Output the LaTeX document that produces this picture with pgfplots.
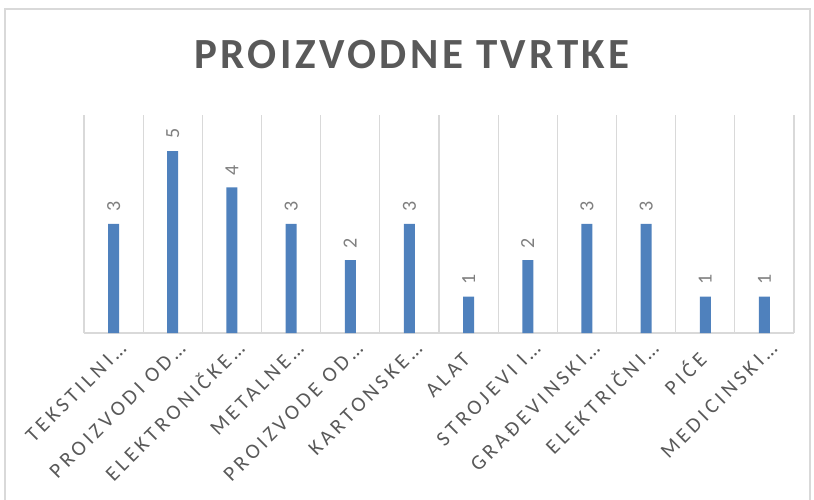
\documentclass[border=0pt]{standalone}
\usepackage{fontspec}
\setmainfont{Carlito}
\newfontfamily\titlefont[LetterSpace=8]{Carlito}
\newfontfamily\labfont[LetterSpace=18]{Carlito}
\usepackage{pgfplots}
\pgfplotsset{compat=1.18}
\definecolor{barblue}{HTML}{4F81BD}
\definecolor{gridgray}{HTML}{D9D9D9}
\definecolor{txtgray}{HTML}{595959}
\definecolor{valgray}{HTML}{7F7F7F}

\begin{document}
\begin{tikzpicture}[x=1pt,y=1pt]
\begin{axis}[
  at={(0,0)}, anchor=south west,
  scale only axis, width=710pt, height=218.4pt,
  ybar, bar width=11pt,
  xmin=0.5, xmax=12.5, ymin=0, ymax=6,
  axis x line*=bottom, axis y line=none,
  x axis line style={draw=gridgray, line width=1.3pt},
  xtick={1,...,12}, ytick=\empty,
  minor xtick={0.5,1.5,...,12.5},
  xminorgrids, minor grid style={draw=gridgray, line width=1.3pt},
  major tick length=0pt, minor tick length=0pt,
  /pgf/number format/assume math mode=true,
  xticklabels={TEKSTILNI…, PROIZVODI OD…, ELEKTRONIČKE…, METALNE…, PROIZVODE OD…, KARTONSKE…, ALAT\kern16pt, STROJEVI I…, GRAĐEVINSKI…, ELEKTRIČNI…, PIĆE\kern16pt, MEDICINSKI…},
  xticklabel style={xshift=14pt, yshift=-17pt, rotate=45, anchor=base east, inner sep=0pt,
    font=\labfont\fontsize{21}{24}\selectfont, text=txtgray},
  nodes near coords,
  every node near coord/.append style={rotate=90, anchor=west, inner xsep=12pt, inner ysep=0pt,
    font=\fontsize{20}{24}\selectfont, text=valgray},
]
\addplot[fill=barblue, draw=none] coordinates {
  (1,3) (2,5) (3,4) (4,3) (5,2) (6,3) (7,1) (8,2) (9,3) (10,3) (11,1) (12,1)};
\end{axis}
\node[font=\titlefont\bfseries\fontsize{43}{50}\selectfont, text=txtgray, inner sep=0pt] at (328,278) {PROIZVODNE TVRTKE};
\draw[gridgray, line width=1.5pt] (-79,-175) rectangle (726,324);
\pgfresetboundingbox
\useasboundingbox (-84,-166) rectangle (730,333);
\end{tikzpicture}
\end{document}
